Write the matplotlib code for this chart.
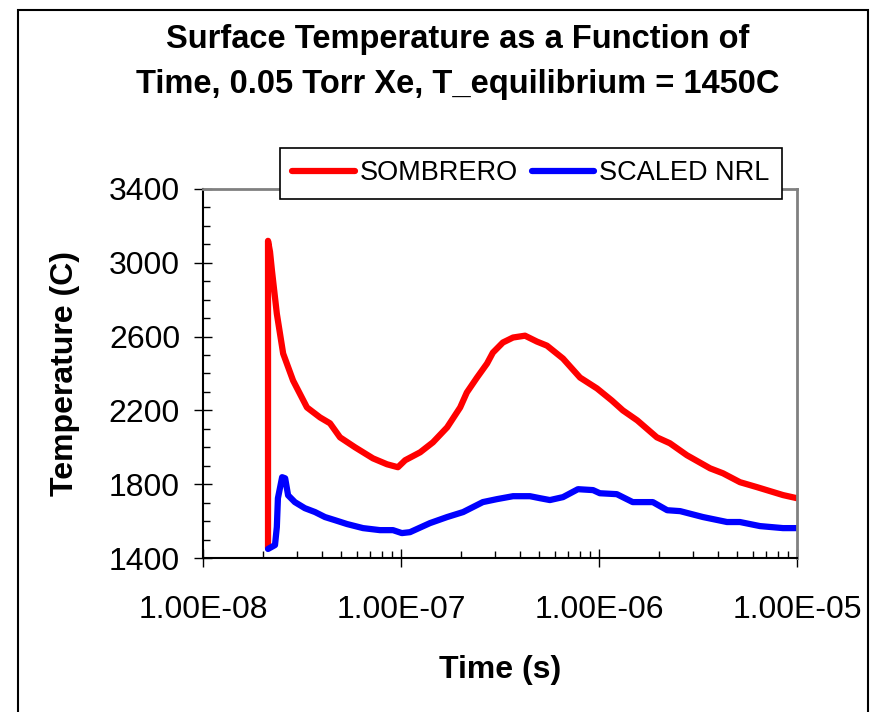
import numpy as np
import matplotlib
matplotlib.use('Agg')
import matplotlib.pyplot as plt
from matplotlib.ticker import LogLocator, MultipleLocator, FuncFormatter, NullFormatter
from matplotlib.patches import Rectangle

plt.rcParams['font.family'] = ['Liberation Sans', 'DejaVu Sans']

# SOMBRERO curve (time in s, temperature in C)
sombrero_t = [2.13e-8, 2.13e-8, 2.18e-8, 2.23e-8, 2.36e-8, 2.54e-8, 2.85e-8, 3.35e-8,
              3.90e-8, 4.38e-8, 4.92e-8, 5.86e-8, 7.22e-8, 8.50e-8, 9.65e-8, 1.05e-7,
              1.25e-7, 1.45e-7, 1.71e-7, 1.99e-7, 2.15e-7, 2.42e-7, 2.72e-7, 2.91e-7,
              3.27e-7, 3.68e-7, 4.23e-7, 4.86e-7, 5.46e-7, 6.58e-7, 8.02e-7, 9.77e-7,
              1.16e-6, 1.32e-6, 1.56e-6, 1.96e-6, 2.28e-6, 2.78e-6, 3.64e-6, 4.23e-6,
              5.15e-6, 6.28e-6, 8.50e-6, 1.0e-5]
sombrero_T = [1454, 3119, 3060, 2957, 2724, 2508, 2362, 2216,
              2162, 2130, 2054, 2000, 1940, 1908, 1892, 1930,
              1973, 2027, 2108, 2216, 2297, 2378, 2454, 2513,
              2568, 2595, 2605, 2573, 2551, 2481, 2378, 2319,
              2254, 2200, 2146, 2054, 2022, 1957, 1886, 1859,
              1811, 1784, 1741, 1724]

# SCALED NRL curve
nrl_t = [2.13e-8, 2.31e-8, 2.36e-8, 2.39e-8, 2.51e-8, 2.60e-8, 2.69e-8, 2.91e-8,
         3.27e-8, 3.68e-8, 4.13e-8, 4.64e-8, 5.34e-8, 6.43e-8, 7.83e-8, 9.11e-8,
         1.01e-7, 1.11e-7, 1.40e-7, 1.71e-7, 2.06e-7, 2.59e-7, 3.05e-7, 3.68e-7,
         4.48e-7, 5.04e-7, 5.65e-7, 6.58e-7, 7.83e-7, 9.33e-7, 1.01e-6, 1.23e-6,
         1.48e-6, 1.87e-6, 2.21e-6, 2.57e-6, 3.35e-6, 4.43e-6, 5.15e-6, 6.50e-6,
         8.50e-6, 1.0e-5]
nrl_T = [1449, 1470, 1568, 1724, 1838, 1832, 1740, 1703,
         1670, 1649, 1622, 1605, 1584, 1562, 1551, 1551,
         1535, 1540, 1589, 1622, 1649, 1703, 1719, 1735,
         1735, 1724, 1714, 1730, 1773, 1768, 1751, 1746,
         1703, 1703, 1659, 1654, 1622, 1595, 1595, 1573,
         1562, 1562]

W, H = 874, 712
fig = plt.figure(figsize=(W / 100, H / 100), dpi=100)
ax = fig.add_axes([203 / W, 1 - 558 / H, (797 - 203) / W, (558 - 189) / H])

ax.plot(sombrero_t, sombrero_T, color='#FF0000', lw=4.5, label='SOMBRERO',
        solid_joinstyle='round', solid_capstyle='round')
ax.plot(nrl_t, nrl_T, color='#0000FF', lw=4.5, label='SCALED NRL',
        solid_joinstyle='round', solid_capstyle='round')

ax.set_xscale('log')
ax.set_xlim(1e-8, 1e-5)
ax.set_ylim(1400, 3400)
ax.set_yticks(np.arange(1400, 3401, 400))
ax.yaxis.set_minor_locator(MultipleLocator(100))
ax.xaxis.set_major_locator(LogLocator(base=10, numticks=10))
ax.xaxis.set_minor_locator(LogLocator(base=10, subs=np.arange(2, 10), numticks=20))
ax.xaxis.set_major_formatter(FuncFormatter(lambda v, p: f"{v:.2E}"))
ax.xaxis.set_minor_formatter(NullFormatter())

ax.tick_params(which='major', direction='inout', length=13, width=1.0, labelsize=23, color='black')
ax.tick_params(which='minor', direction='in', length=5, width=1.0, color='black')
ax.tick_params(axis='x', which='major', pad=20)
ax.tick_params(axis='y', which='major', pad=10)

for side in ['left', 'bottom']:
    ax.spines[side].set_color('black')
    ax.spines[side].set_linewidth(1.5)
for side in ['top', 'right']:
    ax.spines[side].set_color('#808080')
    ax.spines[side].set_linewidth(2)

ax.set_xlabel('Time (s)', fontsize=23, fontweight='bold', labelpad=22)
ax.set_ylabel('Temperature (C)', fontsize=23, fontweight='bold', labelpad=21)

fig.text(458 / W, 1 - 62 / H, 'Surface Temperature as a Function of\nTime, 0.05 Torr Xe, T_equilibrium = 1450C',
         ha='center', va='center', fontsize=23.5, fontweight='bold', linespacing=1.55)

leg = fig.legend(loc='center', bbox_to_anchor=(531 / W, 1 - 173.5 / H), ncol=2, fontsize=19.5,
                 frameon=True, fancybox=False, framealpha=1, edgecolor='black',
                 handlelength=2.3, handletextpad=0.2, columnspacing=0.5, borderpad=0.45,
                 borderaxespad=0)
leg.get_frame().set_linewidth(1.2)

# outer chart border
fig.patches.append(Rectangle((18 / W, -0.02), (868 - 18) / W, 1.02 - 10 / H, transform=fig.transFigure,
                             fill=False, edgecolor='black', lw=1.5, zorder=0))

fig.savefig('out.png', dpi=100)
